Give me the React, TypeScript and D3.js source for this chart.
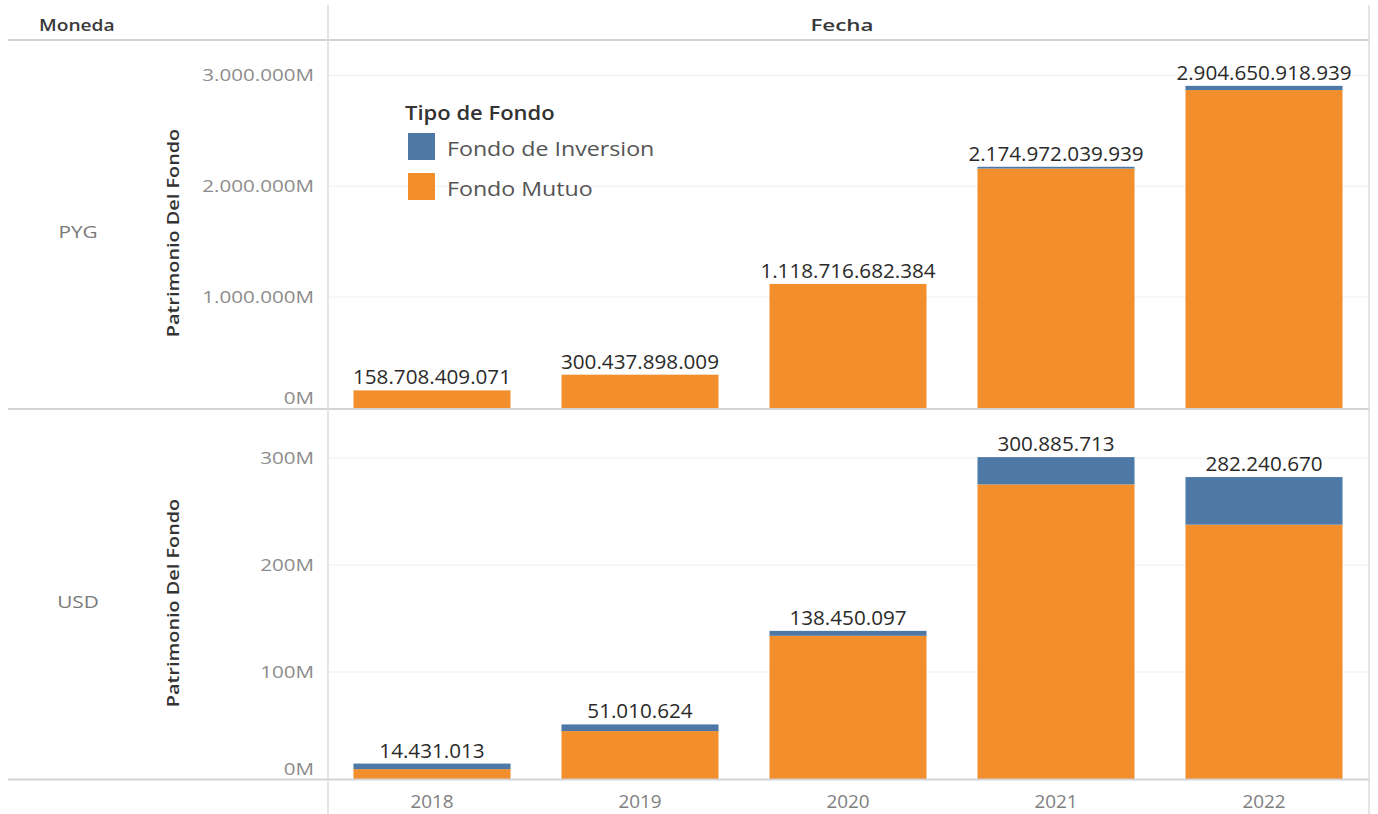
import React from 'react'
import * as d3 from 'd3'

const years = ['2018', '2019', '2020', '2021', '2022']
const series = ['Fondo de Inversion', 'Fondo Mutuo']
const colors = ['#4e79a7', '#f28e2b']

const pygTotal = [158708409071, 300437898009, 1118716682384, 2174972039939, 2904650918939]
const pygInversion = [0, 0, 0, 16000000000, 38000000000]
const usdTotal = [14431013, 51010624, 138450097, 300885713, 282240670]
const usdInversion = [5200000, 6200000, 4600000, 25500000, 44500000]

const pygTicks = [0, 1e12, 2e12, 3e12]
const usdTicks = [0, 1e8, 2e8, 3e8]

const W = 1378
const H = 814
const FONT = '"Open Sans", sans-serif'

const loc = d3.formatLocale({decimal: ',', thousands: '.', grouping: [3], currency: ['', '']})
const fmtTotal = loc.format(',d')
const fmtTick = (v: number) => loc.format(',d')(v / 1e6) + 'M'

// text stretched along its own direction (Tableau's font is wider than ours)
function T({x, y, k = 1, rotate = 0, anchor = 'middle', size = 16, fill = '#333', weight = 400, base = 'auto', children}: any) {
  return (
    <text
      transform={`translate(${x},${y}) rotate(${rotate}) scale(${k},1)`}
      textAnchor={anchor}
      dominantBaseline={base}
      fontSize={size}
      fontWeight={weight}
      fill={fill}
      fontFamily={FONT}>
      {children}
    </text>
  )
}

function Panel({label, totals, inversion, ticks, domainMax, top, bottom}: any) {
  const x = d3.scaleBand().domain(years).range([328, 1368]).paddingInner(0.245).paddingOuter(0.1225)
  const y = d3.scaleLinear().domain([0, domainMax]).range([bottom, top])
  const rows = years.map((yr, i) => ({year: yr, inv: inversion[i], mut: totals[i] - inversion[i], total: totals[i]}))
  // mutuo at the bottom, inversion stacked on top
  const stack = d3.stack<any>().keys(['mut', 'inv'])(rows)
  const color = (key: string) => (key === 'inv' ? colors[0] : colors[1])
  const mid = (top + bottom) / 2
  return (
    <g>
      {ticks.map((t: number) => (
        <g key={t}>
          {t > 0 && <line x1={328} x2={1368} y1={y(t)} y2={y(t)} stroke="#efefef" strokeWidth={1} />}
          <T x={314} y={t === 0 ? y(t) - 10 : y(t)} anchor="end" base="central" k={1.33} size={15.5} fill="#8c8c8c">
            {fmtTick(t)}
          </T>
        </g>
      ))}
      {stack.map(layer =>
        layer.map((d: any, i: number) => (
          <rect
            key={layer.key + '-' + i}
            x={x(years[i])}
            width={x.bandwidth()}
            y={y(d[1])}
            height={Math.max(0, y(d[0]) - y(d[1]))}
            fill={color(layer.key)}
          />
        ))
      )}
      {rows.map(r => (
        <T key={r.year} x={(x(r.year) as number) + x.bandwidth() / 2} y={y(r.total) - 6} k={1.06} size={19.5} fill="#2a2a2a">
          {fmtTotal(r.total)}
        </T>
      ))}
      <T x={78} y={mid + 7} k={1.3} size={16} fill="#7a7a7a" base="central">{label}</T>
      <T x={173} y={mid + 8} rotate={-90} k={1.24} size={16} fill="#333" weight={600} base="central">
        Patrimonio Del Fondo
      </T>
    </g>
  )
}

export default function App() {
  const x = d3.scaleBand().domain(years).range([328, 1368]).paddingInner(0.245).paddingOuter(0.1225)
  return (
    <svg width={W} height={H} style={{position: 'absolute', left: 0, top: 0, background: 'white'}}>
      <rect width={W} height={H} fill="white" />
      <Panel label="PYG" totals={pygTotal} inversion={pygInversion} ticks={pygTicks} domainMax={3.3e12} top={42} bottom={408} />
      <Panel label="USD" totals={usdTotal} inversion={usdInversion} ticks={usdTicks} domainMax={344e6} top={411} bottom={779} />

      {/* headers and frame */}
      <T x={39} y={25} anchor="start" base="central" k={1.2} size={16} fill="#3a3a3a" weight={600}>Moneda</T>
      <T x={842} y={25} base="central" k={1.4} size={16} fill="#3a3a3a" weight={600}>Fecha</T>
      <line x1={8} x2={1370} y1={40} y2={40} stroke="#d4d4d4" strokeWidth={2} />
      <line x1={8} x2={1370} y1={409} y2={409} stroke="#d4d4d4" strokeWidth={2} />
      <line x1={8} x2={1370} y1={779.5} y2={779.5} stroke="#d4d4d4" strokeWidth={2} />
      <line x1={328} x2={328} y1={5} y2={814} stroke="#dcdcdc" strokeWidth={1.5} />
      <line x1={1369} x2={1369} y1={5} y2={814} stroke="#dcdcdc" strokeWidth={1.5} />

      {years.map(yr => (
        <T key={yr} x={(x(yr) as number) + x.bandwidth() / 2} y={801} base="central" k={1.05} size={18} fill="#808080">{yr}</T>
      ))}

      {/* legend */}
      <T x={405} y={112} anchor="start" base="central" k={1.1} size={20} fill="#333" weight={600}>Tipo de Fondo</T>
      {series.map((s, i) => (
        <g key={s}>
          <rect x={408} y={133 + i * 40} width={27} height={27} fill={colors[i]} />
          <T x={447} y={148 + i * 40} anchor="start" base="central" k={1.16} size={20} fill="#555">{s}</T>
        </g>
      ))}
    </svg>
  )
}
